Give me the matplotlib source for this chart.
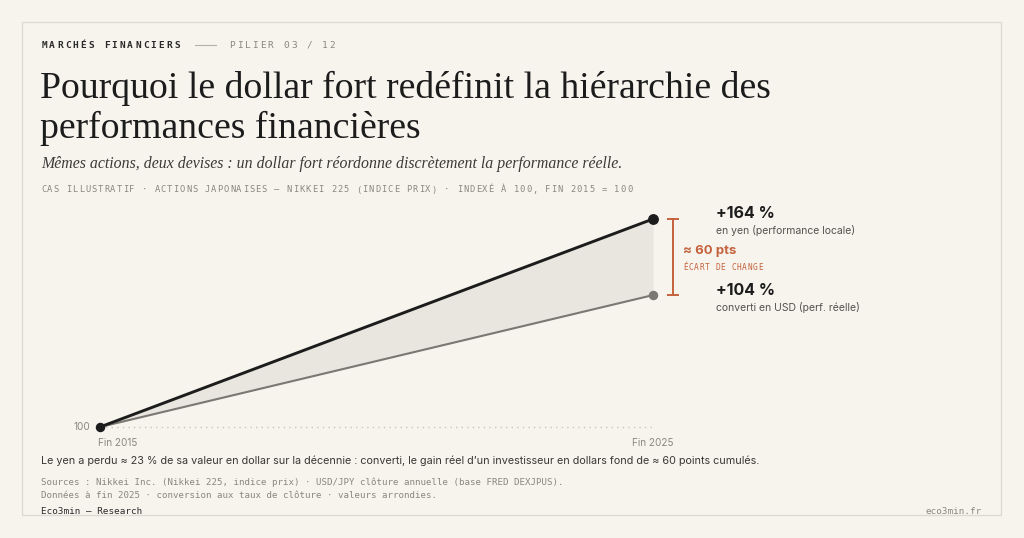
import matplotlib.pyplot as plt
from matplotlib.patches import Rectangle

# data
years = [2015, 2025]
nikkei_jpy = [100, 264]   # indexed, local currency
nikkei_usd = [100, 204]   # indexed, converted to USD
x_labels = ['Fin 2015', 'Fin 2025']
base_value = 100

W, H = 1024, 538
BG = '#f7f4ee'
INK = '#1c1c1c'
GREY = '#8a8680'
MID = '#55524d'
ORANGE = '#c4623e'
SANS = ['Inter', 'DejaVu Sans']
SERIF = ['Liberation Serif', 'DejaVu Serif']
MONO = ['DejaVu Sans Mono']

fig = plt.figure(figsize=(W / 100, H / 100), dpi=100, facecolor=BG)


def fx(x):
    return x / W


def fy(y):
    return 1 - y / H


def txt(x, y, s, **kw):
    kw.setdefault('va', 'center')
    return fig.text(fx(x), fy(y), s, **kw)


def spaced(x, y, s, size, step, color, weight='normal'):
    # monospace text with letter spacing, each glyph centred in its cell
    for i, ch in enumerate(s):
        if ch == ' ':
            continue
        txt(x + i * step + step * 0.42, y, ch, fontsize=size, family=MONO, color=color,
            weight=weight, ha='center')


# card border
fig.patches.append(Rectangle((fx(22), fy(515)), fx(979), 493 / H, transform=fig.transFigure,
                             fill=False, edgecolor='#dedad2', linewidth=1))

# header
spaced(41, 45, 'MARCHÉS FINANCIERS', 6.8, 7.8, '#2a2a2a', weight='bold')
fig.add_artist(plt.Line2D([fx(195), fx(216)], [fy(45), fy(45)], color='#b5b1a9', lw=0.8))
spaced(229, 45, 'PILIER 03 / 12', 6.8, 7.7, GREY)

txt(40, 98, 'Pourquoi le dollar fort redéfinit la hiérarchie des', fontsize=27.2,
    family=SERIF, color=INK, va='baseline')
txt(40, 138, 'performances financières', fontsize=27.2, family=SERIF, color=INK, va='baseline')
txt(41, 168, 'Mêmes actions, deux devises : un dollar fort réordonne discrètement la performance réelle.',
    fontsize=11.45, family=SERIF, style='italic', color='#3c3a36', va='baseline')
spaced(41, 190, 'CAS ILLUSTRATIF · ACTIONS JAPONAISES — NIKKEI 225 (INDICE PRIX) · INDEXÉ À 100, FIN 2015 = 100',
       6.3, 6.3, GREY)

# chart
ax = fig.add_axes([fx(100), fy(427), fx(553), 208 / H])
ax.set_xlim(years[0], years[-1])
ax.set_ylim(base_value, nikkei_jpy[-1])
ax.axis('off')
ax.patch.set_alpha(0)

ax.plot(years, [base_value, base_value], color='#c9c5bd', lw=1, ls=(0, (1, 3)), clip_on=False, zorder=1)
ax.fill_between(years, nikkei_usd, nikkei_jpy, color='#e9e6df', lw=0, zorder=2, clip_on=False)
ax.plot(years, nikkei_usd, color='#7b7873', lw=1.5, clip_on=False, zorder=3)
ax.plot(years, nikkei_jpy, color=INK, lw=2.1, clip_on=False, zorder=4)
ax.plot(years[-1], nikkei_usd[-1], 'o', color='#7b7873', ms=5.8, clip_on=False, zorder=5)
ax.plot(years[-1], nikkei_jpy[-1], 'o', color=INK, ms=6.8, clip_on=False, zorder=5)
ax.plot(years[0], base_value, 'o', color=INK, ms=5.8, clip_on=False, zorder=5)

# bracket showing currency gap
bx = years[-1] + 0.36
ax.plot([bx, bx], [nikkei_usd[-1], nikkei_jpy[-1]], color=ORANGE, lw=1.4, clip_on=False)
for v in (nikkei_usd[-1], nikkei_jpy[-1]):
    ax.plot([bx - 0.09, bx + 0.09], [v, v], color=ORANGE, lw=1.4, clip_on=False)

# axis labels
ax.text(years[0] - 0.18, base_value, str(base_value), fontsize=7.2, family=SANS, color=GREY,
        ha='right', va='center')
ax.annotate(x_labels[0], (years[0], base_value), xytext=(-2, -16), textcoords='offset pixels',
            fontsize=7.2, family=SANS, color=GREY, ha='left', va='center')
ax.annotate(x_labels[1], (years[1], base_value), xytext=(0, -16), textcoords='offset pixels',
            fontsize=7.2, family=SANS, color=GREY, ha='center', va='center')

# right-hand annotations
gap = nikkei_jpy[-1] - nikkei_usd[-1]
ax.annotate(f'+{nikkei_jpy[-1] - base_value} %', (years[-1], nikkei_jpy[-1]), xytext=(63, 5),
            textcoords='offset pixels', fontsize=11.5, family=SANS, weight='bold', color=INK,
            ha='left', va='center', annotation_clip=False)
ax.annotate('en yen (performance locale)', (years[-1], nikkei_jpy[-1]), xytext=(63, -12),
            textcoords='offset pixels', fontsize=7.5, family=SANS, color=MID,
            ha='left', va='center', annotation_clip=False)
ax.annotate(f'+{nikkei_usd[-1] - base_value} %', (years[-1], nikkei_usd[-1]), xytext=(63, 5),
            textcoords='offset pixels', fontsize=11.5, family=SANS, weight='bold', color=INK,
            ha='left', va='center', annotation_clip=False)
ax.annotate('converti en USD (perf. réelle)', (years[-1], nikkei_usd[-1]), xytext=(63, -12),
            textcoords='offset pixels', fontsize=7.5, family=SANS, color=MID,
            ha='left', va='center', annotation_clip=False)
txt(683, 251, f'≈ {gap} pts', fontsize=9.5, family=SANS, weight='bold', color=ORANGE, ha='left')
spaced(683, 267, 'ÉCART DE CHANGE', 5.7, 5.4, ORANGE)

# footnotes
txt(41, 461, 'Le yen a perdu ≈ 23 % de sa valeur en dollar sur la décennie : converti, le gain réel '
    'd’un investisseur en dollars fond de ≈ 60 points cumulés.', fontsize=7.8, family=SANS, color='#3a3834')
txt(41, 482, 'Sources : Nikkei Inc. (Nikkei 225, indice prix) · USD/JPY clôture annuelle (base FRED DEXJPUS).',
    fontsize=6.6, family=MONO, color=GREY)
txt(41, 495, 'Données à fin 2025 · conversion aux taux de clôture · valeurs arrondies.',
    fontsize=6.6, family=MONO, color=GREY)
txt(41, 512, 'Eco3min — Research', fontsize=6.7, family=MONO, color='#2a2a2a')
txt(982, 512, 'eco3min.fr', fontsize=6.7, family=MONO, color=GREY, ha='right')

fig.savefig('out.png', dpi=100, facecolor=BG)
